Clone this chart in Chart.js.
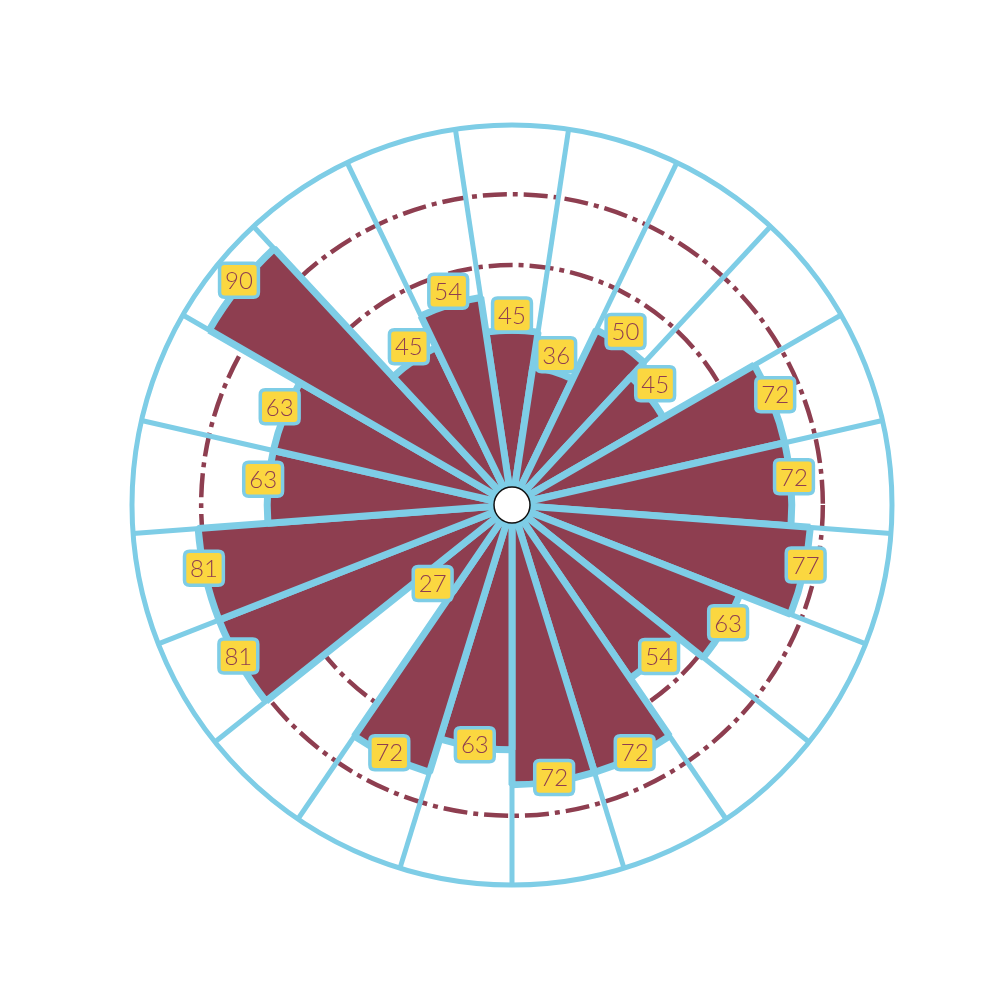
<!DOCTYPE html>
<html>
<head>
<meta charset="utf-8">
<script src="https://cdn.jsdelivr.net/npm/chart.js@4/dist/chart.umd.min.js"></script>
<style>
  html, body { margin: 0; padding: 0; background: #ffffff; }
  #wrap { width: 1000px; height: 1000px; }
</style>
</head>
<body>
<div id="wrap"><canvas id="c" width="1000" height="1000"></canvas></div>
<script>
// ---- data ----
const categories = ['1','2','3','4','5','6','7','8','9','10','11','12','13','14','15','16','17','18','19','20','21'];
const values = [45, 36, 50, 45, 72, 72, 77, 63, 54, 72, 72, 63, 72, 27, 81, 81, 63, 63, 90, 45, 54];
const ringValues = [61.76, 80];   // dashed reference rings
const scaleMax = 97.8;            // outer solid ring
const gridTicks = [0, ringValues[0], ringValues[1], scaleMax];

// ---- styles ----
const BLUE = '#7ecde6';
const WINE = '#8e3e50';
const YELLOW = '#fbd740';
const DASH = [24, 6, 5, 6];

const centerDot = {
  id: 'centerDot',
  afterDatasetsDraw(chart) {
    const s = chart.scales.r;
    const ctx = chart.ctx;
    ctx.save();
    ctx.beginPath();
    ctx.arc(s.xCenter, s.yCenter, 18, 0, Math.PI * 2);
    ctx.fillStyle = '#ffffff';
    ctx.fill();
    ctx.lineWidth = 1.5;
    ctx.strokeStyle = '#111111';
    ctx.stroke();
    ctx.restore();
  }
};

function roundRect(ctx, x, y, w, h, r) {
  ctx.beginPath();
  ctx.moveTo(x + r, y);
  ctx.lineTo(x + w - r, y);
  ctx.quadraticCurveTo(x + w, y, x + w, y + r);
  ctx.lineTo(x + w, y + h - r);
  ctx.quadraticCurveTo(x + w, y + h, x + w - r, y + h);
  ctx.lineTo(x + r, y + h);
  ctx.quadraticCurveTo(x, y + h, x, y + h - r);
  ctx.lineTo(x, y + r);
  ctx.quadraticCurveTo(x, y, x + r, y);
  ctx.closePath();
}

const valueLabels = {
  id: 'valueLabels',
  afterDatasetsDraw(chart) {
    const ctx = chart.ctx;
    const meta = chart.getDatasetMeta(0);
    const data = chart.data.datasets[0].data;
    ctx.save();
    ctx.font = '300 24px Lato, "Open Sans", sans-serif';
    ctx.textAlign = 'center';
    ctx.textBaseline = 'middle';
    meta.data.forEach((el, i) => {
      const p = el.getProps(['x', 'y', 'startAngle', 'endAngle', 'outerRadius'], true);
      const mid = (p.startAngle + p.endAngle) / 2;
      const lr = p.outerRadius * 0.95 + 17;
      const cx = p.x + Math.cos(mid) * lr;
      const cy = p.y + Math.sin(mid) * lr - 7;
      const txt = String(data[i]);
      const tw = ctx.measureText(txt).width;
      const w = tw + 11, h = 34;
      roundRect(ctx, cx - w / 2, cy - h / 2, w, h, 5);
      ctx.fillStyle = YELLOW;
      ctx.fill();
      ctx.lineWidth = 3.5;
      ctx.strokeStyle = BLUE;
      ctx.stroke();
      ctx.fillStyle = WINE;
      ctx.fillText(txt, cx, cy + 1);
    });
    ctx.restore();
  }
};

new Chart(document.getElementById('c'), {
  type: 'polarArea',
  data: {
    labels: categories,
    datasets: [{
      data: values,
      backgroundColor: WINE,
      borderColor: BLUE,
      borderWidth: 7
    }]
  },
  options: {
    responsive: false,
    animation: false,
    devicePixelRatio: 1,
    layout: { padding: { left: 132, right: 108, top: 125, bottom: 115 } },
    plugins: { legend: { display: false }, tooltip: { enabled: false } },
    scales: {
      r: {
        min: 0,
        max: scaleMax,
        startAngle: -180 / categories.length,
        afterBuildTicks(scale) {
          scale.ticks = gridTicks.map(v => ({ value: v }));
        },
        ticks: { display: false },
        pointLabels: { display: false },
        angleLines: { display: true, color: BLUE, lineWidth: 5 },
        grid: {
          circular: true,
          color: (c) => (c.tick && c.tick.value === scaleMax) ? BLUE : WINE,
          lineWidth: (c) => (c.tick && c.tick.value === scaleMax) ? 5 : 4.5
        },
        border: {
          dash: (c) => (c.tick && c.tick.value === scaleMax) ? [] : DASH
        }
      }
    }
  },
  plugins: [centerDot, valueLabels]
});
</script>
</body>
</html>
